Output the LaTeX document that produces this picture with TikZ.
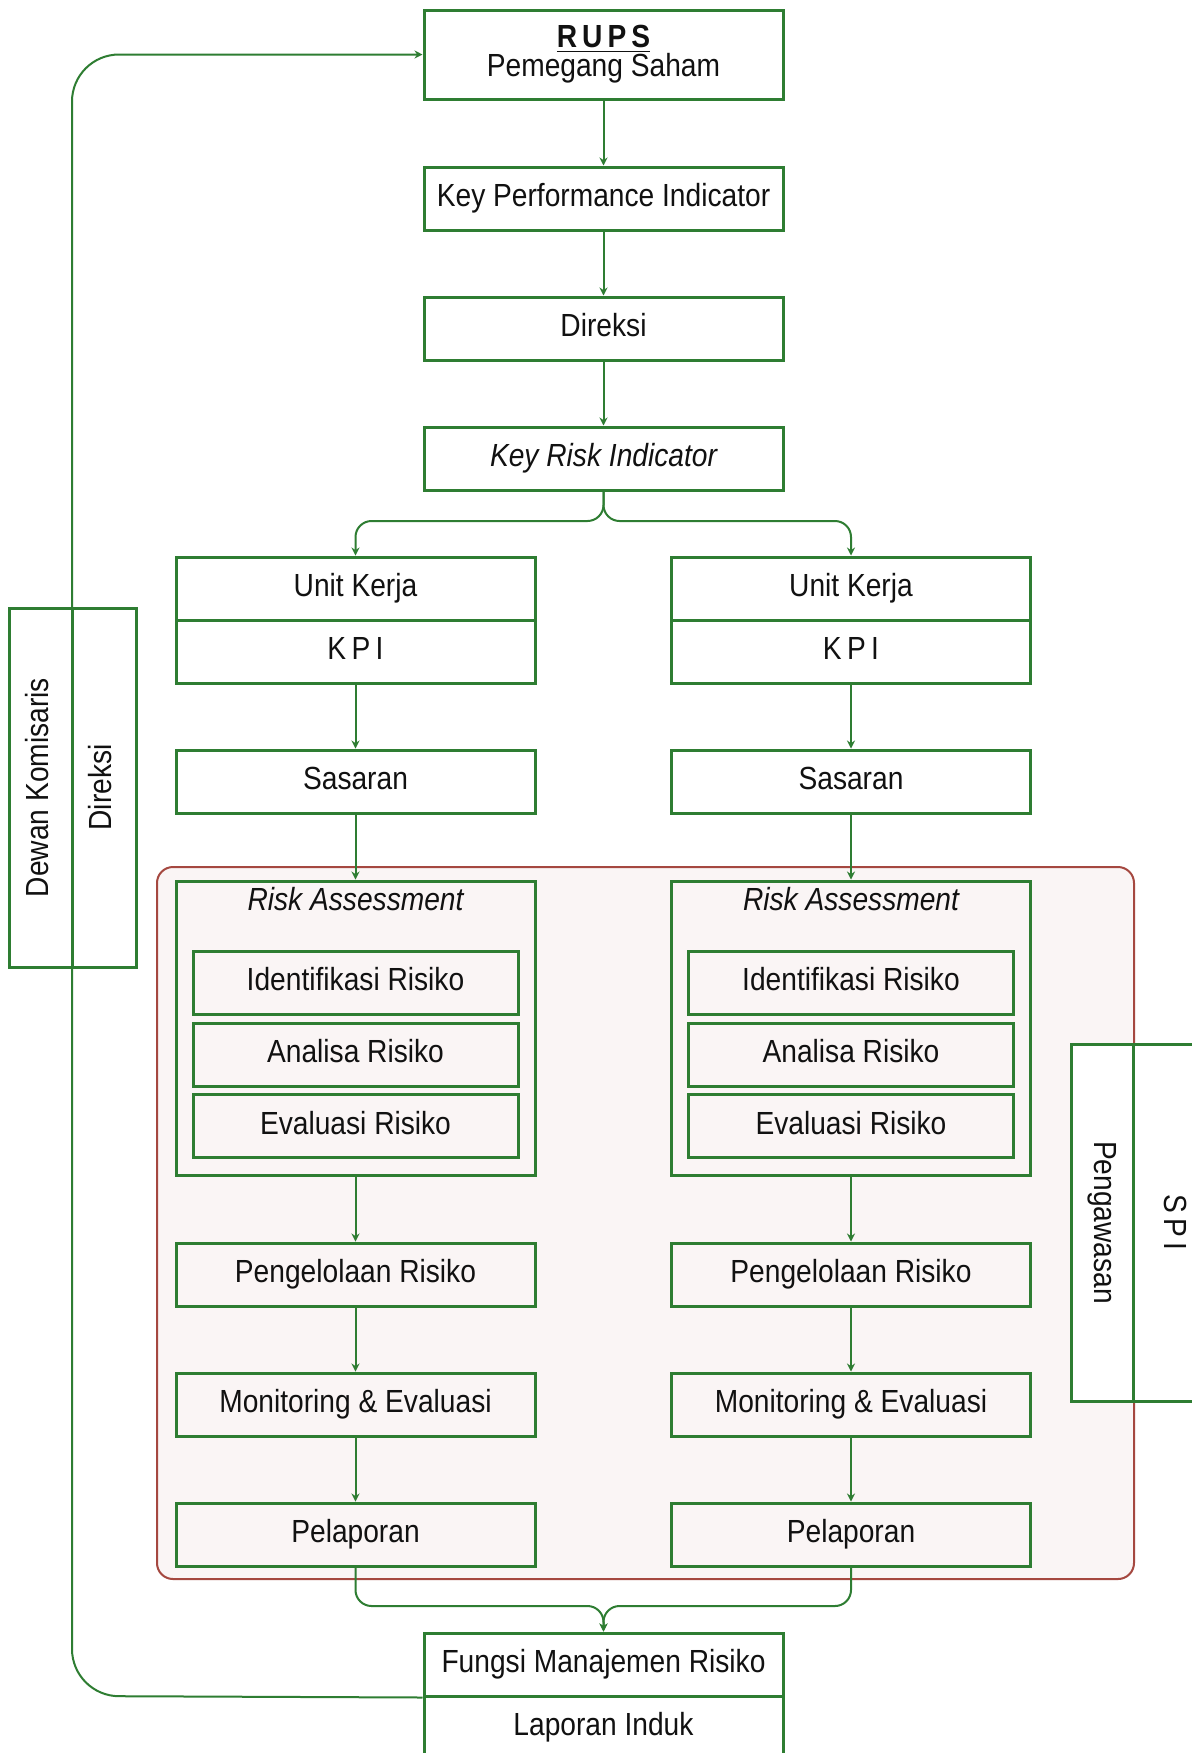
\documentclass[tikz,border=0pt]{standalone}
\usepackage{fontspec}
\setmainfont{Liberation Sans}[FakeStretch=0.88]
\usetikzlibrary{arrows.meta}
\definecolor{grn}{RGB}{46,125,50}
\definecolor{cbord}{RGB}{165,72,64}
\definecolor{cfill}{RGB}{250,245,245}
\definecolor{txt}{RGB}{17,17,17}
\begin{document}
\begin{tikzpicture}[x=0.5pt,y=-0.5pt,
  basebox/.style={draw=grn, line width=1.5pt, minimum width=179.5pt, minimum height=31.5pt,
    inner sep=0pt, align=center, text=txt, font=\fontsize{16}{18}\selectfont},
  box/.style={basebox, text height=11.5pt, text depth=3.5pt},
  inbox/.style={box, minimum width=162.5pt},
  lbl/.style={inner sep=0pt, text=txt, font=\fontsize{16}{18}\selectfont, text height=11.5pt, text depth=3.5pt},
  conn/.style={draw=grn, line width=1pt, -{Stealth[length=4pt,width=4pt]}},
  plain/.style={draw=grn, line width=1pt}]
\fill[white] (0,0) rectangle (1191,1753);
\useasboundingbox (0,0) rectangle (1191,1753);

% container
\draw[draw=cbord, fill=cfill, line width=1pt, rounded corners=8pt] (157,867) rectangle (1134,1579);

% main column
\node[basebox, minimum height=44.5pt, font=\fontsize{16}{14.5}\selectfont] (rups) at (603.5,54.5)
  {\textbf{\underline{R\hspace{2.5pt}U\hspace{2.5pt}P\hspace{2.5pt}S}}\\Pemegang Saham};
\node[box] (kpi) at (603.5,198.5) {Key Performance Indicator};
\node[box] (dir) at (603.5,328.5) {Direksi};
\node[box] (kri) at (603.5,458.5) {\itshape Key Risk Indicator};

% left column
\node[box] (ukL) at (355.5,588.5) {Unit Kerja};
\node[box] (kpiL) at (355.5,651.5) {K\,P\,I};
\node[box] (sasL) at (355.5,781.5) {Sasaran};
\node[basebox, minimum height=147pt] (raL) at (355.5,1028) {};
\node[lbl] (raLt) at (355.5,902) {\itshape Risk Assessment};
\node[inbox] (idL) at (355.5,982.5) {Identifikasi Risiko};
\node[inbox] (anL) at (355.5,1054.5) {Analisa Risiko};
\node[inbox] (evL) at (355.5,1126) {Evaluasi Risiko};
\node[box] (pgL) at (355.5,1274.5) {Pengelolaan Risiko};
\node[box] (moL) at (355.5,1404.5) {Monitoring \& Evaluasi};
\node[box] (plL) at (355.5,1534.5) {Pelaporan};

% right column
\node[box] (ukR) at (851,588.5) {Unit Kerja};
\node[box] (kpiR) at (851,651.5) {K\,P\,I};
\node[box] (sasR) at (851,781.5) {Sasaran};
\node[basebox, minimum height=147pt] (raR) at (851,1028) {};
\node[lbl] (raRt) at (851,902) {\itshape Risk Assessment};
\node[inbox] (idR) at (851,982.5) {Identifikasi Risiko};
\node[inbox] (anR) at (851,1054.5) {Analisa Risiko};
\node[inbox] (evR) at (851,1126) {Evaluasi Risiko};
\node[box] (pgR) at (851,1274.5) {Pengelolaan Risiko};
\node[box] (moR) at (851,1404.5) {Monitoring \& Evaluasi};
\node[box] (plR) at (851,1534.5) {Pelaporan};

% bottom
\node[box] (fmr) at (603.5,1664.5) {Fungsi Manajemen Risiko};
\node[box] (lap) at (603.5,1727.5) {Laporan Induk};

% side boxes
\node[box, rotate=90, minimum width=179.5pt, minimum height=31.5pt] (dk) at (40.5,787.5) {Dewan Komisaris};
\node[box, rotate=90, minimum width=179.5pt, minimum height=32pt] (dks) at (104,787.5) {Direksi};
\node[box, fill=white, rotate=-90, minimum width=178.5pt, minimum height=31pt] (pgw) at (1102,1222.5) {Pengawasan};
\node[box, fill=white, rotate=-90, minimum width=178.5pt, minimum height=39pt] (spi) at (1172,1222.5) {S\,P\,I};

% connectors main
\draw[conn] (rups) -- (kpi);
\draw[conn] (kpi) -- (dir);
\draw[conn] (dir) -- (kri);
\coordinate (fork) at (603.5,521);
\draw[conn, rounded corners=8pt] (kri.south) -- (fork) -| (ukL.north);
\draw[conn, rounded corners=8pt] (kri.south) -- (fork) -| (ukR.north);

\foreach \s in {L,R}{
  \draw[conn] (kpi\s) -- (sas\s);
  \draw[conn] (sas\s) -- (ra\s.north);
  \draw[conn] (ra\s) -- (pg\s);
  \draw[conn] (pg\s) -- (mo\s);
  \draw[conn] (mo\s) -- (pl\s);
}
\coordinate (merge) at (603.5,1606);
\draw[conn, rounded corners=8pt] (plL.south) |- (merge) -- (fmr.north);
\draw[conn, rounded corners=8pt] (plR.south) |- (merge) -- (fmr.north);

% feedback loop
\coordinate (fbl) at (72,1696);
\coordinate (ftl) at (72,54.5);
\draw[conn, rounded corners=23.5pt] (fmr.south west) -- (fbl) -- (ftl) -- (rups.west);
\end{tikzpicture}
\end{document}
